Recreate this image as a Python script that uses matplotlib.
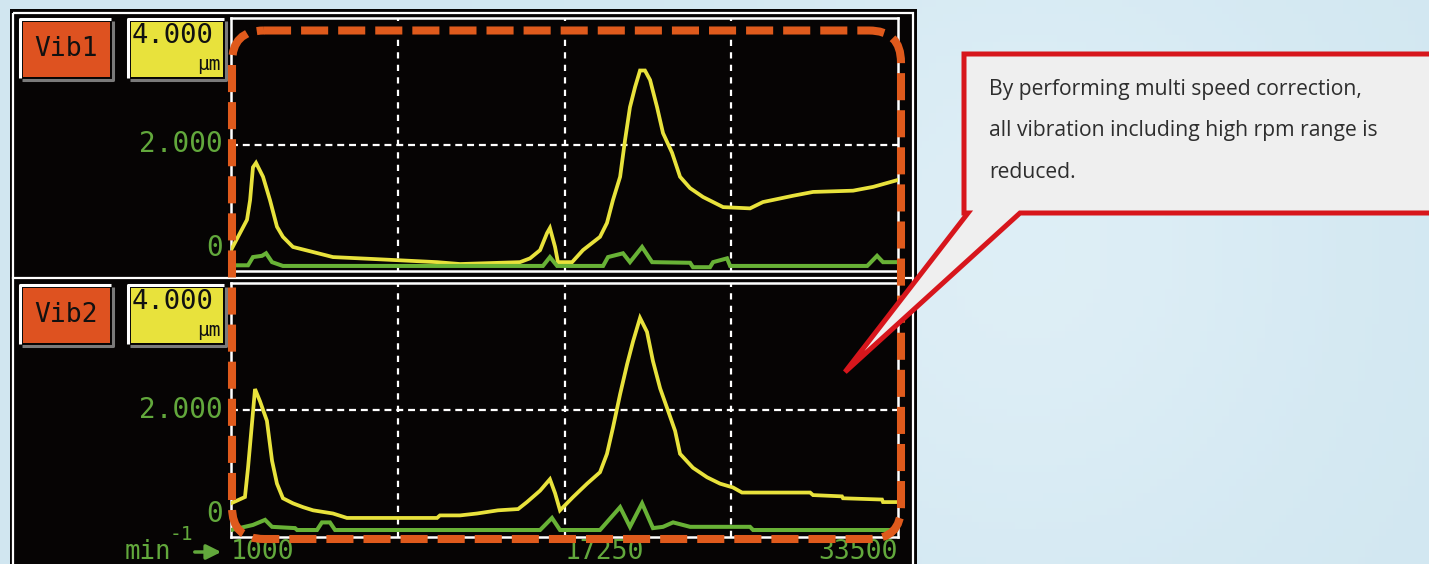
import matplotlib
matplotlib.use('Agg')
import matplotlib.pyplot as plt
import matplotlib.transforms as mtransforms
import numpy as np
from matplotlib.patches import Rectangle, FancyBboxPatch, Polygon

plt.rcParams['lines.scale_dashes'] = False

# speed axis (min^-1) and amplitude (um)
x_min, x_max = 1000, 33500
x_ticks = [1000, 17250, 33500]
x_grid = [9125, 17250, 25375]
full_scale = 4.0

vib1_yellow_rpm = [1000, 1780, 1930, 2070, 2220, 2560, 2900, 3240, 3530, 4020, 5000, 5970, 7920,
                   11040, 12160, 15080, 15570, 16060, 16400, 16540, 16790, 16930, 17620, 18150,
                   18980, 19320, 19610, 19960, 20200, 20440, 20690, 20930, 21170, 21420, 21760,
                   22050, 22490, 22880, 23370, 24000, 24980, 26290, 26920, 28390, 29360, 31310,
                   32290, 33500]
vib1_yellow_amp = [0.33, 0.81, 1.12, 1.64, 1.71, 1.49, 1.12, 0.70, 0.54, 0.38, 0.30, 0.22, 0.19,
                   0.14, 0.11, 0.14, 0.20, 0.33, 0.60, 0.68, 0.38, 0.14, 0.14, 0.33,
                   0.54, 0.76, 1.12, 1.49, 2.07, 2.59, 2.91, 3.17, 3.17, 3.02, 2.59,
                   2.18, 1.87, 1.49, 1.31, 1.17, 1.01, 0.99, 1.09, 1.19, 1.25, 1.27,
                   1.33, 1.44]
vib1_green_rpm = [1000, 1830, 2070, 2510, 2710, 3000, 3530, 16200, 16540, 16890, 19130, 19370,
                  20100, 20440, 21030, 21520, 23370, 23510, 24340, 24490, 25170, 25320, 32000,
                  32480, 32770, 33500]
vib1_green_amp = [0.09, 0.09, 0.22, 0.24, 0.28, 0.14, 0.08, 0.08, 0.22, 0.08, 0.08, 0.22,
                  0.28, 0.14, 0.38, 0.14, 0.13, 0.06, 0.06, 0.14, 0.20, 0.08, 0.08,
                  0.24, 0.14, 0.14]

vib2_yellow_rpm = [1000, 1680, 1830, 2020, 2170, 2410, 2750, 3000, 3240, 3530, 4020, 4510, 5000,
                   5970, 6650, 11040, 11180, 12160, 12990, 14010, 14990, 15420, 16060, 16540,
                   16790, 17030, 17670, 18350, 18980, 19320, 19610, 19960, 20300, 20590, 20930,
                   21270, 21560, 21910, 22250, 22640, 22880, 23510, 24200, 24830, 25460, 25900,
                   29220, 29360, 30770, 30820, 32720, 32770, 33500]
vib2_yellow_amp = [0.53, 0.63, 1.09, 1.78, 2.33, 2.14, 1.83, 1.20, 0.84, 0.61, 0.53, 0.47, 0.42,
                   0.37, 0.30, 0.30, 0.34, 0.34, 0.37, 0.42, 0.44, 0.55, 0.73, 0.91,
                   0.69, 0.42, 0.63, 0.84, 1.02, 1.31, 1.72, 2.25, 2.72, 3.08, 3.45,
                   3.23, 2.77, 2.34, 2.03, 1.67, 1.31, 1.09, 0.94, 0.84, 0.78, 0.70,
                   0.70, 0.66, 0.64, 0.61, 0.59, 0.55, 0.55]
vib2_green_rpm = [1000, 2070, 2660, 3000, 4120, 4220, 5190, 5430, 5820, 6070, 16060, 16640,
                  17030, 18980, 19960, 20440, 21030, 21560, 22050, 22540, 23370, 26290, 26440,
                  33500]
vib2_green_amp = [0.11, 0.19, 0.27, 0.16, 0.14, 0.11, 0.11, 0.23, 0.23, 0.11, 0.11, 0.30,
                  0.11, 0.11, 0.47, 0.16, 0.53, 0.14, 0.16, 0.23, 0.16, 0.16, 0.11,
                  0.11]

callout_lines = ['By performing multi speed correction,',
                 'all vibration including high rpm range is',
                 'reduced.']

# colours
bg_blue = '#d6e9f2'
lcd_yellow = '#e8e23c'
lcd_green = '#68b236'
label_green = '#62a83c'
tag_orange = '#de5220'
dash_orange = '#df5a1c'
callout_red = '#d7161c'
mono = 'DejaVu Sans Mono'

W, H = 1429, 564
fig = plt.figure(figsize=(W / 100, H / 100), dpi=100, facecolor=bg_blue)

# background layer in pixel coordinates
bg = fig.add_axes([0, 0, 1, 1], zorder=0)
bg.set_xlim(0, W)
bg.set_ylim(H, 0)
bg.axis('off')

# soft light-blue backdrop
gx, gy = np.meshgrid(np.linspace(0, 1, 200), np.linspace(0, 1, 80))
glow = np.exp(-((gx - 0.72) ** 2 / 0.05 + (gy - 0.45) ** 2 / 0.4))
rgb = np.dstack([0.82 + 0.05 * glow, 0.905 + 0.03 * glow, 0.945 + 0.02 * glow])
bg.imshow(np.clip(rgb, 0, 1), extent=[0, W, H, 0], aspect='auto', zorder=0)

bg.add_patch(Rectangle((10, 9), 907, 600, facecolor='#060404', edgecolor='none', zorder=1))
bg.add_patch(Rectangle((13.5, 12.5), 900, 600, facecolor='none', edgecolor='white', lw=1.6,
                       zorder=2))
bg.plot([13.5, 913.5], [278, 278], color='white', lw=1.6, zorder=2)


def lcd_box(x0, y0, x1, y1, fill):
    # bevelled tag: white top/left, grey bottom/right
    bg.plot([x0 - 3, x0 - 3, x1 + 1], [y1 + 1, y0 - 3, y0 - 3], color='white', lw=2.2,
            solid_capstyle='butt', zorder=3)
    bg.plot([x0 - 1, x1 + 3, x1 + 3], [y1 + 3, y1 + 3, y0 - 1], color='#7a7a7a', lw=2.2,
            solid_capstyle='butt', zorder=3)
    bg.add_patch(Rectangle((x0, y0), x1 - x0, y1 - y0, facecolor=fill, edgecolor='none',
                           zorder=3))


for name, dy in [('Vib1', 0), ('Vib2', 266)]:
    lcd_box(23, 22 + dy, 110, 77 + dy, tag_orange)
    lcd_box(131, 22 + dy, 223, 77 + dy, lcd_yellow)
    bg.text(66, 49 + dy, name, family=mono, fontsize=19, color='#111111',
            ha='center', va='center', zorder=4)
    bg.text(132, 36 + dy, '%.3f' % full_scale, family=mono, fontsize=19.5, color='#111111',
            ha='left', va='center', zorder=4)
    bg.text(221, 65 + dy, 'µm', family=mono, fontsize=14, color='#111111',
            ha='right', va='center', zorder=4)

# speed unit with arrow
bg.text(125, 559, 'min', family=mono, fontsize=18.5, color=label_green, ha='left',
        va='baseline', zorder=4)
bg.text(170, 535, '-1', family=mono, fontsize=14, color=label_green, ha='left', va='center',
        zorder=4)
bg.annotate('', xy=(224, 552), xytext=(192, 552),
            arrowprops=dict(arrowstyle='-|>', color=label_green, lw=2.5, mutation_scale=22),
            zorder=4)

# two vibration screens
axes_px = [(18, 271), (283, 537)]
traces = [(vib1_yellow_rpm, vib1_yellow_amp, vib1_green_rpm, vib1_green_amp),
          (vib2_yellow_rpm, vib2_yellow_amp, vib2_green_rpm, vib2_green_amp)]
for i, ((top, bottom), (yr, ya, gr, ga)) in enumerate(zip(axes_px, traces)):
    ax = fig.add_axes([231 / W, 1 - bottom / H, 667 / W, (bottom - top) / H], zorder=1)
    ax.set_facecolor('#060404')
    ax.set_xlim(x_min, x_max)
    ax.set_ylim(0, full_scale)
    ax.set_xticks([])
    ax.set_yticks([])
    for s in ax.spines.values():
        s.set_color('white')
        s.set_linewidth(1.8)
    ax.axhline(full_scale / 2, color='white', lw=1.6, dashes=(5, 3.5), zorder=1)
    for xg in x_grid:
        ax.axvline(xg, color='white', lw=1.6, dashes=(4.5, 4.5), zorder=1)
    ax.plot(yr, ya, color=lcd_yellow, lw=2.7, zorder=3, solid_joinstyle='miter')
    ax.plot(gr, ga, color=lcd_green, lw=2.9, zorder=4, solid_joinstyle='miter')

    ytr = mtransforms.blended_transform_factory(ax.transAxes, ax.transData)
    ax.text(-0.012, full_scale / 2, '%.3f' % (full_scale / 2), transform=ytr, family=mono,
            fontsize=20, color=label_green, ha='right', va='center', clip_on=False)
    ax.text(-0.012, 0.36, '0', transform=ytr, family=mono, fontsize=20,
            color=label_green, ha='right', va='center', clip_on=False)
    if i == 1:
        xtr = mtransforms.blended_transform_factory(ax.transData, ax.transAxes)
        for xt, ha in zip(x_ticks, ['left', 'left', 'right']):
            ax.text(xt, -0.087, str(xt), transform=xtr, family=mono, fontsize=19,
                    color=label_green, ha=ha, va='baseline', clip_on=False)

# overlay: highlight frame and callout
ov = fig.add_axes([0, 0, 1, 1], zorder=2)
ov.set_xlim(0, W)
ov.set_ylim(H, 0)
ov.axis('off')
ov.patch.set_alpha(0)
ov.add_patch(FancyBboxPatch((232, 30.5), 669, 508.5,
                            boxstyle='round,pad=0,rounding_size=32',
                            facecolor='none', edgecolor=dash_orange, lw=5.8,
                            linestyle=(0, (19.5, 7.2))))
ov.add_patch(Polygon([(964, 54), (1445, 54), (1445, 213), (1020, 213), (845, 372),
                      (968, 213), (964, 213)], closed=True,
                     facecolor='#efefef', edgecolor=callout_red, lw=3.6, joinstyle='miter'))
for k, line in enumerate(callout_lines):
    ov.text(989, 89 + 41.5 * k, line, family='Open Sans', fontsize=15.2, color='#2e2e2e',
            ha='left', va='center')

fig.savefig('out.png', dpi=100, facecolor=fig.get_facecolor())
